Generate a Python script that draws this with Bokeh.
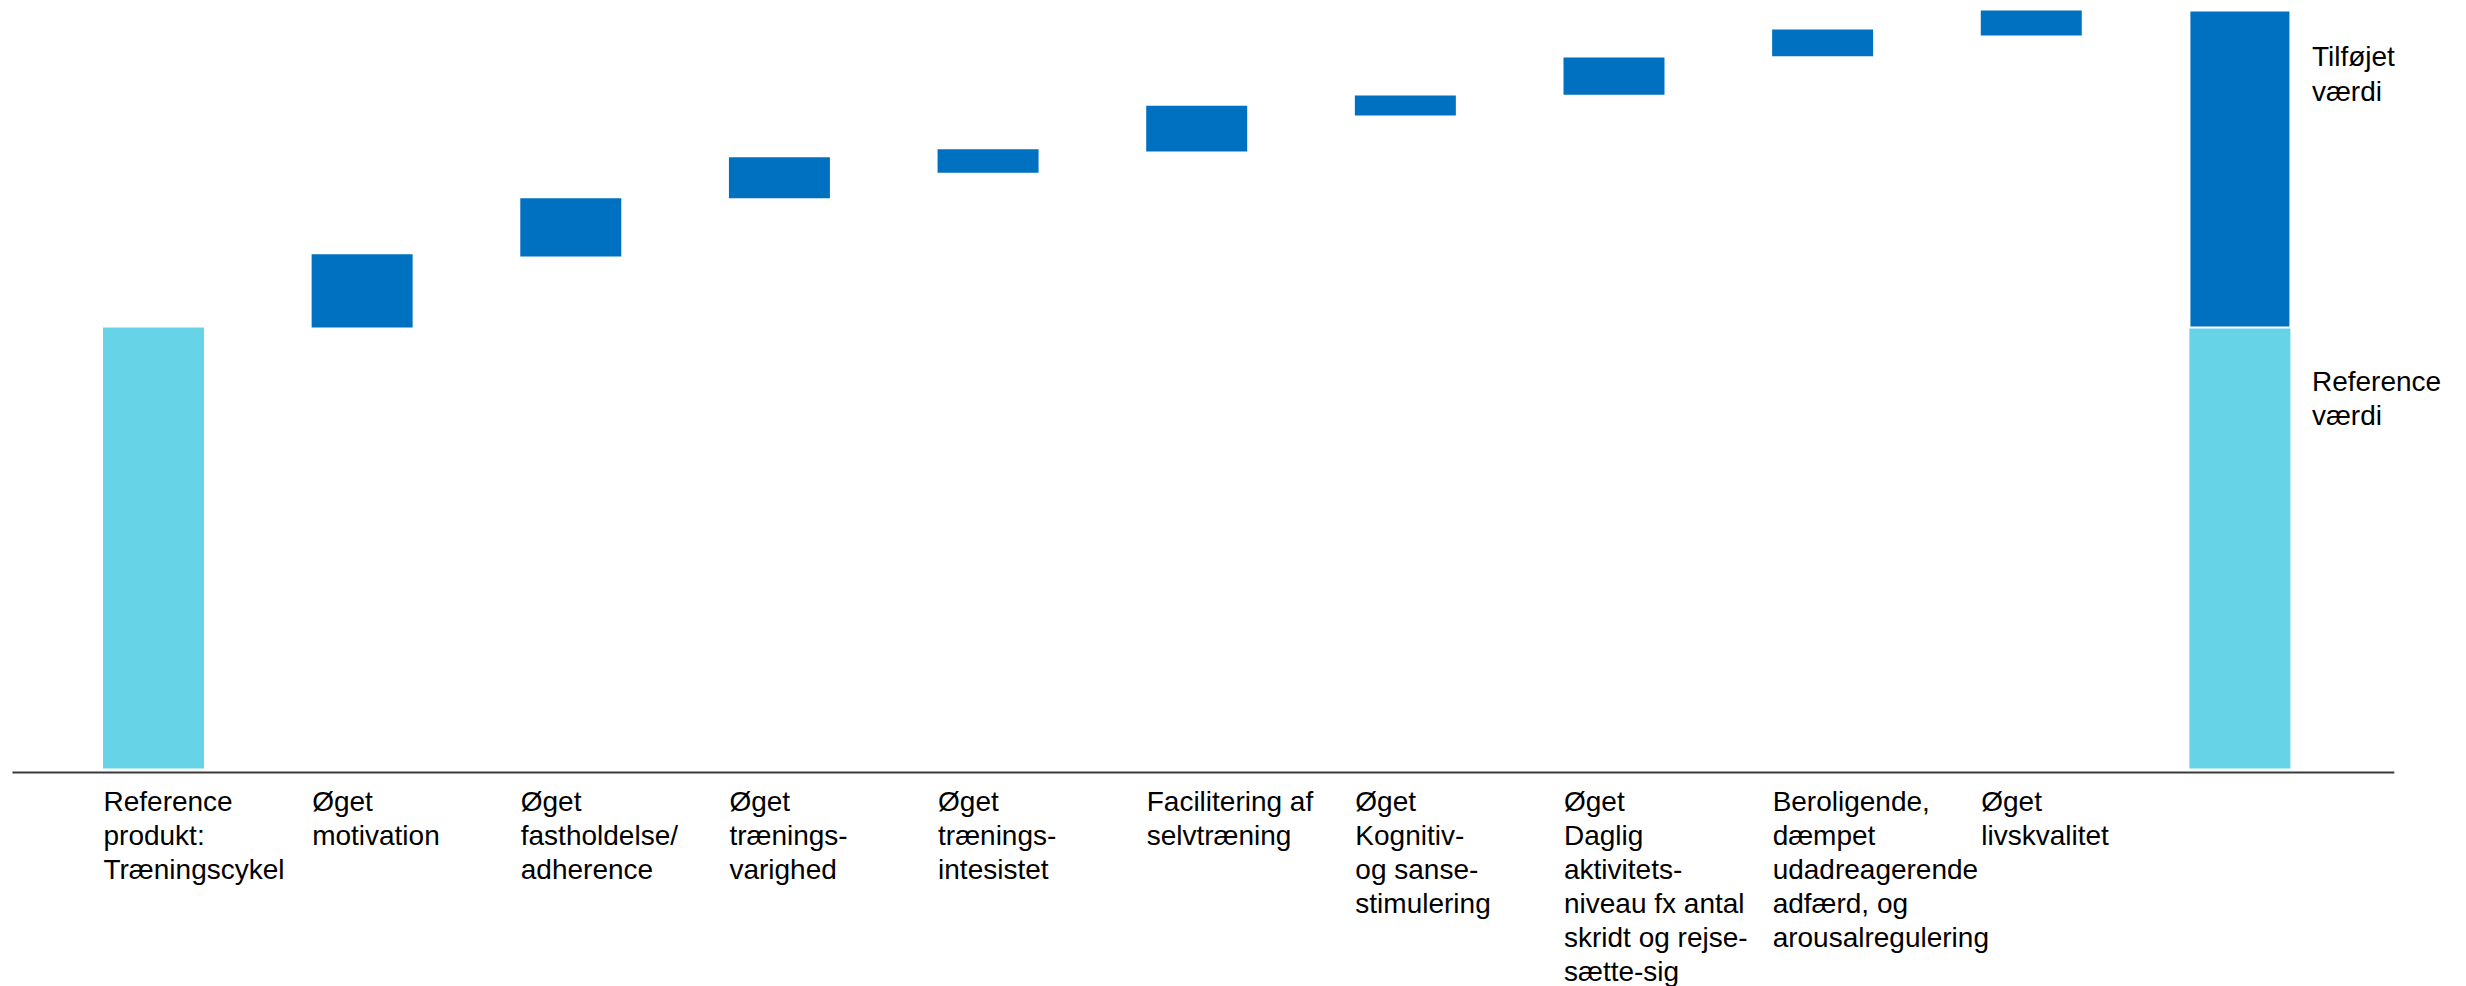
import numpy as np
from bokeh.plotting import figure
from bokeh.models import Range1d, ColumnDataSource, LabelSet, Label
from bokeh.core.properties import value
from bokeh.embed import file_html
from bokeh.resources import INLINE

# ---------------- data ----------------
categories = [
    "Reference\nprodukt:\nTræningscykel",
    "Øget\nmotivation",
    "Øget\nfastholdelse/\nadherence",
    "Øget\ntrænings-\nvarighed",
    "Øget\ntrænings-\nintesistet",
    "Facilitering af\nselvtræning",
    "Øget\nKognitiv-\nog sanse-\nstimulering",
    "Øget\nDaglig\naktivitets-\nniveau fx antal\nskridt og rejse-\nsætte-sig",
    "Beroligende,\ndæmpet\nudadreagerende\nadfærd, og\narousalregulering",
    "Øget\nlivskvalitet",
]
reference_value = 100.0
step_bottom = [100.0, 116.1, 129.3, 135.1, 139.9, 148.1, 152.8, 161.5, 166.2]
step_top = [116.6, 129.3, 138.6, 140.4, 150.3, 152.6, 161.2, 167.6, 171.9]
total_value = 171.9
end_labels = ["Tilføjet\nværdi", "Reference\nværdi"]

# ---------------- style ----------------
LIGHT = "#67D3E6"
DARK = "#0070C0"
FONT = "Liberation Sans"
FS = "28px"
LH = 1.1
BAR_W = 0.484

n = len(categories)
x_all = np.arange(n + 1)

p = figure(
    width=2466, height=986, output_backend="svg", toolbar_location=None,
    x_range=Range1d(-0.7333, 11.086), y_range=Range1d(-49.43, 174.15),
    min_border=0,
)
p.background_fill_color = "white"
p.border_fill_color = "white"
p.outline_line_color = None
p.grid.visible = False
p.axis.visible = False

# baseline (decorative axis line)
p.segment(x0=[x_all[0] - 0.676], x1=[x_all[-1] + 0.740], y0=[-0.9], y1=[-0.9],
          line_color="#3a3a3a", line_width=2)

# reference bar
p.vbar(x=x_all[:1], bottom=0, top=reference_value, width=BAR_W, fill_color=LIGHT, line_color=None)
# increments
p.vbar(x=x_all[1:n], bottom=step_bottom, top=step_top, width=BAR_W, fill_color=DARK, line_color=None)
# final stacked bar
p.vbar(x=x_all[n:], bottom=0, top=reference_value, width=BAR_W, fill_color=LIGHT, line_color=None)
p.vbar(x=x_all[n:], bottom=reference_value, top=total_value, width=BAR_W,
       fill_color=DARK, line_color="white", line_width=2)

# category labels (left aligned under bars)
src = ColumnDataSource(dict(x=x_all[:n], y=np.zeros(n), text=categories))
labels = LabelSet(
    x="x", y="y", text="text", source=src,
    x_offset=-50, y_offset=-17,
    text_align="left", text_baseline="top",
    text_font=value(FONT), text_font_size=value(FS), text_line_height=LH,
    text_color="black",
)
p.add_layout(labels)

for txt, yv, off in zip(end_labels, [total_value, reference_value], [-31, -38]):
    p.add_layout(Label(
        x=x_all[n], y=yv, text=txt, x_offset=72, y_offset=off,
        text_align="left", text_baseline="top",
        text_font=FONT, text_font_size=FS, text_line_height=LH, text_color="black",
    ))

open("out.html", "w").write(file_html(p, INLINE))
